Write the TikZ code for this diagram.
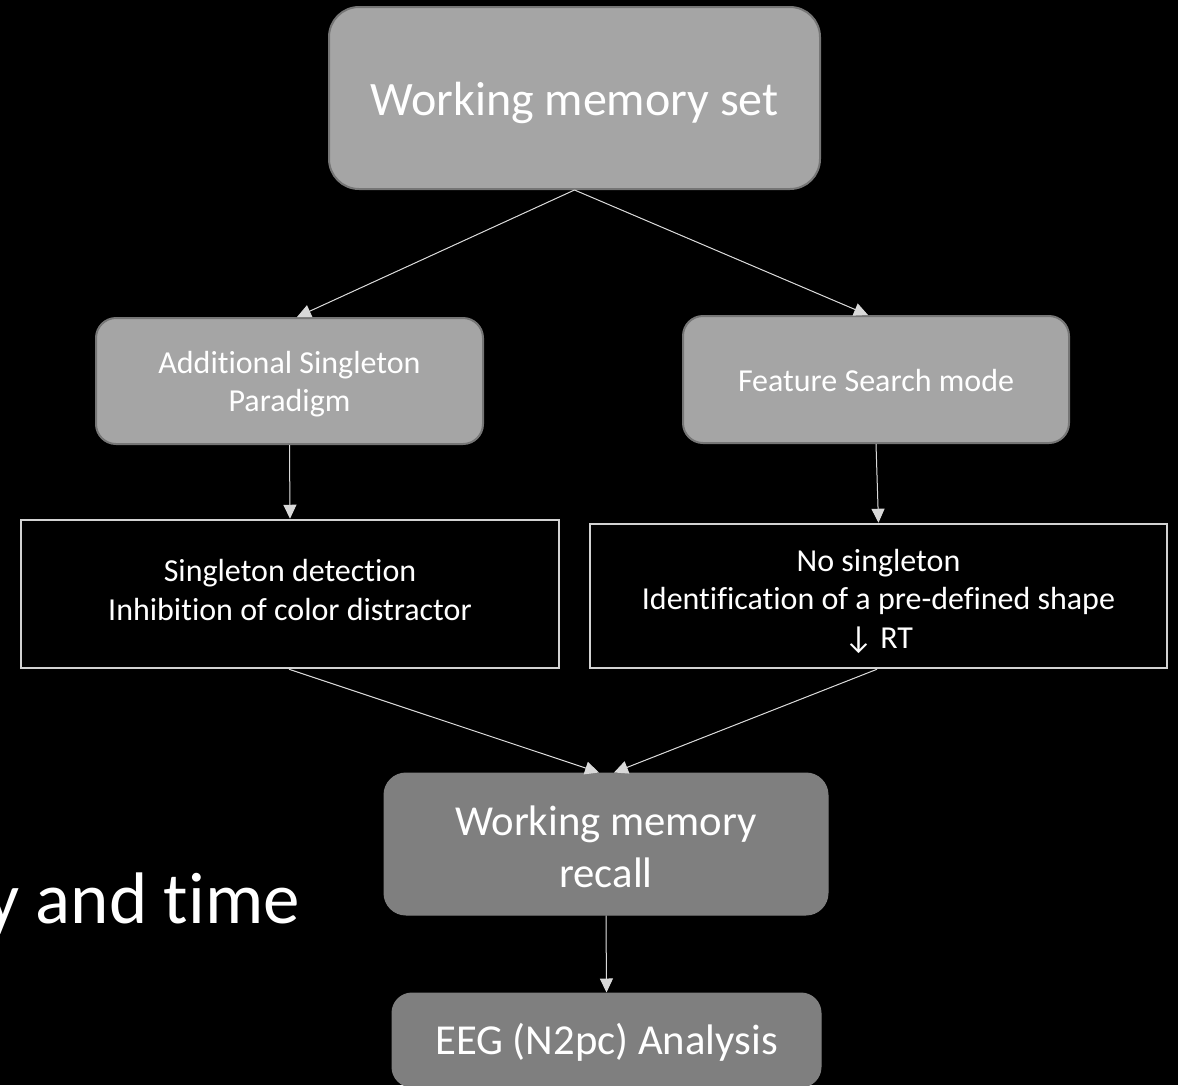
\documentclass[tikz,border=0pt]{standalone}
\usepackage{fontspec}
\setmainfont[Ligatures=CommonOff]{Carlito}
\usetikzlibrary{arrows.meta}
\definecolor{boxgray}{RGB}{165,165,165}
\definecolor{boxedge}{RGB}{118,118,118}
\definecolor{darkgray}{RGB}{127,127,127}
\definecolor{frameedge}{RGB}{210,210,210}
\definecolor{linegray}{RGB}{217,217,217}
\tikzset{
  lightbox/.style={draw=boxedge, fill=boxgray, line width=2pt, rounded corners=20pt, inner sep=0pt},
  framebox/.style={draw=frameedge, fill=black, line width=2.5pt, inner sep=0pt},
  darkbox/.style={draw=darkgray, fill=darkgray, line width=1pt, rounded corners=22pt, inner sep=0pt},
  midtext/.style={inner sep=0pt, align=center, text=white, font=\fontsize{32}{38.5}\selectfont},
  bigtext/.style={inner sep=0pt, align=center, text=white, font=\fontsize{42.7}{51.5}\selectfont},
  arr/.style={draw=linegray, line width=1pt, -{Triangle[length=14pt,width=13pt]}, fill=linegray}
}
\begin{document}
\begin{tikzpicture}[x=1pt,y=-1pt]
\useasboundingbox (0,0) rectangle (1178,1085);
\clip (0,0) rectangle (1178,1085);
\fill[black] (0,0) rectangle (1178,1085);

% boxes
\node[lightbox, rounded corners=30pt, minimum width=491pt, minimum height=182pt] (top) at (574.5,98) {};
\node[lightbox, minimum width=387pt, minimum height=126pt] (asp) at (289.5,381) {};
\node[lightbox, minimum width=386pt, minimum height=127pt] (fsm) at (876,379.5) {};
\node[framebox, minimum width=538pt, minimum height=148pt] (lbox) at (290,594) {};
\node[framebox, minimum width=577pt, minimum height=144pt] (rbox) at (878.5,596) {};
\node[darkbox, minimum width=444pt, minimum height=142pt] (wmr) at (606,844) {};
\node[darkbox, rounded corners=20pt, minimum width=429pt, minimum height=94pt] (eeg) at (606.5,1040) {};

% texts
\node[bigtext, font=\fontsize{48}{57.6}\selectfont] (toptext) at (574.5,103) {Working memory set};
\node[midtext] (asptext) at (289.5,384) {Additional Singleton\\Paradigm};
\node[midtext] (fsmtext) at (876,380) {Feature Search mode};
\node[midtext] (lboxtext) at (290,590) {Singleton detection\\Inhibition of color distractor};
\node[midtext] (rboxtext) at (878.5,601) {No singleton\\Identification of a pre-defined shape\\↓ RT};
\node[bigtext] (wmrtext) at (606,847) {Working memory\\recall};
\node[bigtext] (eegtext) at (606.5,1042) {EEG (N2pc) Analysis};

\node[anchor=base east, inner sep=0pt, text=white, font=\fontsize{73}{88}\selectfont]
  (side) at (300,923) {y and time};

% connectors
\draw[arr] (top.south) -- ([xshift=7.5pt]asp.north);
\draw[arr] (top.south) -- ([xshift=-8pt]fsm.north);
\draw[arr] (asp.south) -- (lbox.north);
\draw[arr] (fsm.south) -- (rbox.north);
\draw[arr] ([xshift=-1pt]lbox.south) -- ([xshift=-7pt]wmr.north);
\draw[arr] ([xshift=-1.5pt]rbox.south) -- ([xshift=8pt]wmr.north);
\draw[arr] (wmr.south) -- (eeg.north);
\end{tikzpicture}
\end{document}
